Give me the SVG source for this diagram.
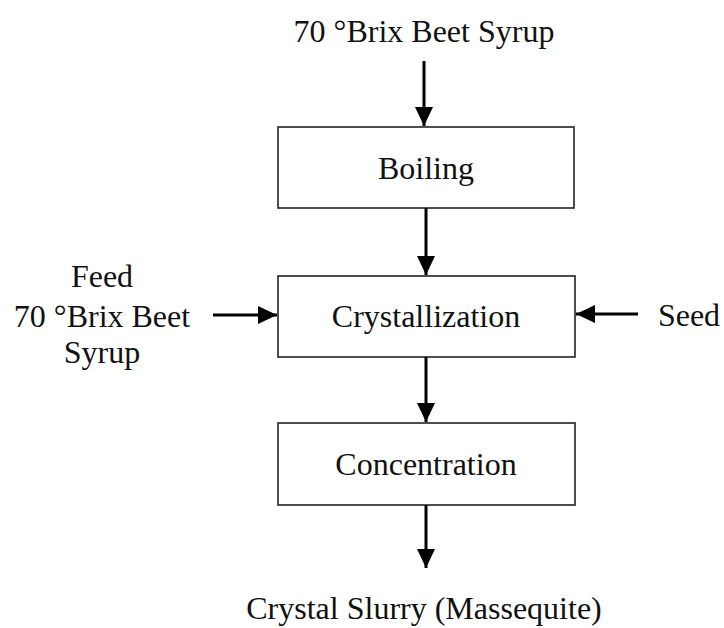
<svg xmlns="http://www.w3.org/2000/svg" width="724" height="628" viewBox="0 0 724 628">
<style>
  .box { fill: #fff; stroke: #222; stroke-width: 1.6; }
  .t { font-family: "Liberation Serif", "Times New Roman", serif; font-size: 32px; fill: #111; text-anchor: middle; }
  .c { stroke: #000; stroke-width: 3; fill: none; marker-end: url(#ah); }
</style>
<defs>
  <marker id="ah" markerUnits="userSpaceOnUse" markerWidth="20" markerHeight="18" refX="19" refY="9" orient="auto">
    <polygon points="0,0 19,9 0,18" fill="#000"/>
  </marker>
</defs>
<rect width="724" height="628" fill="#fff"/>
<g id="input-top"><text class="t" x="424" y="42">70 °Brix Beet Syrup</text></g>
<g id="boiling"><rect class="box" x="278" y="127" width="296" height="81"/><text class="t" x="426" y="179">Boiling</text></g>
<g id="crystallization"><rect class="box" x="278" y="276" width="297" height="81"/><text class="t" x="426" y="327">Crystallization</text></g>
<g id="concentration"><rect class="box" x="278" y="423" width="297" height="82"/><text class="t" x="426" y="475">Concentration</text></g>
<g id="feed"><text class="t" x="102" y="287">Feed</text><text class="t" x="102" y="327">70 °Brix Beet</text><text class="t" x="102" y="363">Syrup</text></g>
<g id="seed"><text class="t" x="689" y="326">Seed</text></g>
<g id="output"><text class="t" x="424" y="619">Crystal Slurry (Massequite)</text></g>
<g id="connectors">
  <line class="c" x1="424" y1="61" x2="424" y2="126"/>
  <line class="c" x1="426" y1="208" x2="426" y2="275"/>
  <line class="c" x1="426" y1="357" x2="426" y2="422"/>
  <line class="c" x1="426" y1="505" x2="426" y2="568"/>
  <line class="c" x1="213" y1="315" x2="277" y2="315"/>
  <line class="c" x1="638" y1="314" x2="576" y2="314"/>
</g>
</svg>
